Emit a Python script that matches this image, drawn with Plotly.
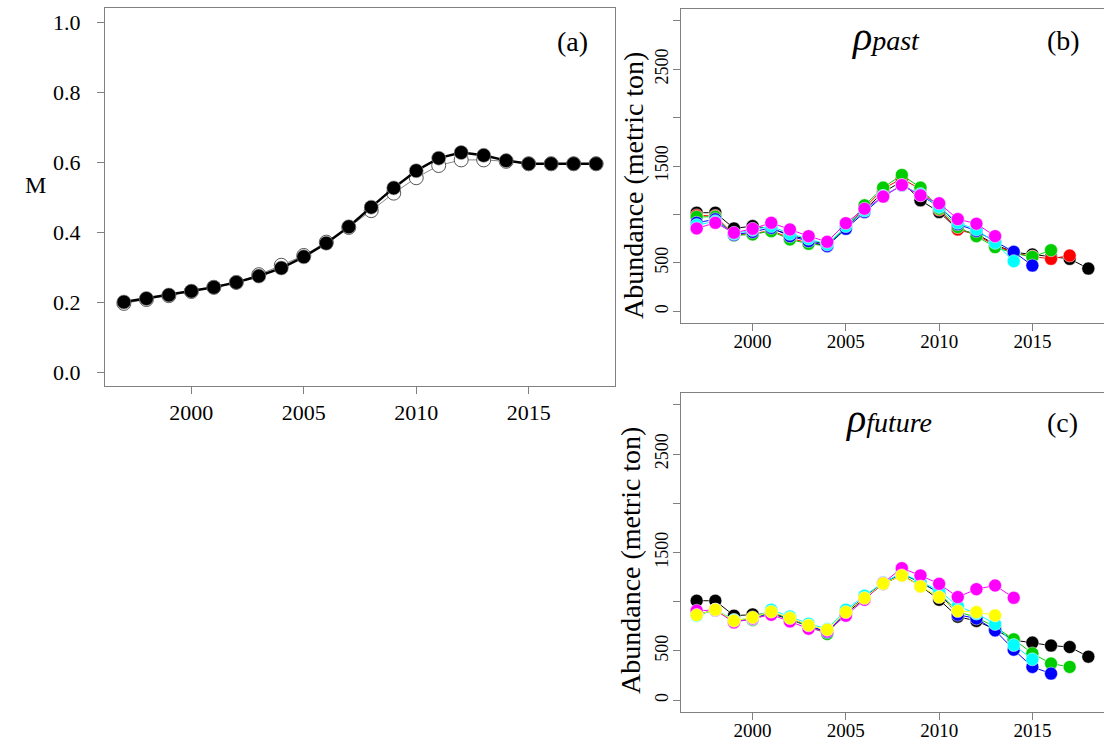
import plotly.graph_objects as go

years = list(range(1997, 2019))

# Panel (a): natural mortality M
m_filled = [0.200, 0.210, 0.220, 0.231, 0.242, 0.256, 0.274, 0.297, 0.329, 0.368, 0.415,
            0.471, 0.526, 0.575, 0.611, 0.627, 0.619, 0.604, 0.595, 0.595, 0.595, 0.595]
m_open = [0.196, 0.207, 0.218, 0.230, 0.242, 0.256, 0.278, 0.305, 0.333, 0.371, 0.413,
          0.461, 0.511, 0.555, 0.590, 0.606, 0.606, 0.602, 0.595, 0.595, 0.595, 0.595]

# Panel (b): rho past retrospective peels
past_black = [1018, 1018, 856, 880, 855, 790, 735, 690, 860, 1040, 1230, 1340, 1146, 1025, 845, 800, 690, 610, 587, 560, 542, 442]
past_red = [990, 985, 790, 800, 835, 755, 705, 680, 865, 1060, 1265, 1370, 1260, 1050, 845, 790, 680, 605, 565, 542, 576]
past_green = [975, 976, 783, 794, 828, 742, 697, 675, 870, 1094, 1277, 1408, 1277, 1060, 870, 776, 663, 600, 562, 631]
past_blue = [914, 950, 790, 820, 862, 776, 725, 673, 852, 1025, 1190, 1300, 1200, 1080, 900, 830, 720, 614, 473]
past_cyan = [890, 930, 800, 840, 880, 800, 750, 690, 880, 1040, 1190, 1300, 1210, 1080, 914, 845, 707, 518]
past_magenta = [856, 914, 811, 852, 914, 845, 776, 718, 910, 1059, 1184, 1304, 1197, 1115, 952, 904, 776]

# Panel (c): rho future retrospective peels
fut_black = [1010, 1010, 858, 871, 880, 820, 750, 690, 875, 1035, 1180, 1270, 1160, 1020, 848, 805, 720, 610, 585, 555, 540, 442]
fut_green = [865, 915, 805, 815, 890, 825, 750, 672, 890, 1045, 1185, 1280, 1195, 1090, 900, 840, 745, 618, 475, 372, 338]
fut_blue = [870, 915, 810, 825, 895, 830, 760, 690, 895, 1050, 1190, 1285, 1200, 1090, 868, 830, 709, 513, 338, 270]
fut_cyan = [858, 919, 815, 830, 919, 851, 777, 723, 919, 1061, 1195, 1290, 1206, 1115, 955, 880, 774, 560, 415]
fut_magenta = [909, 915, 790, 830, 868, 800, 726, 700, 858, 1020, 1190, 1341, 1267, 1182, 1047, 1128, 1165, 1040]
fut_yellow = [865, 919, 807, 841, 899, 834, 760, 716, 895, 1037, 1185, 1267, 1155, 1047, 905, 895, 861]

m_ticks = [0.0, 0.2, 0.4, 0.6, 0.8, 1.0]
x_ticks = [2000, 2005, 2010, 2015]
ab_ticks = [0, 500, 1000, 1500, 2000, 2500, 3000]
ab_text = ["0", "500", "", "1500", "", "2500", ""]

past_series = [("#000000", past_black), ("#FF0000", past_red), ("#00CD00", past_green),
               ("#0000FF", past_blue), ("#00FFFF", past_cyan), ("#FF00FF", past_magenta)]
fut_series = [("#000000", fut_black), ("#00CD00", fut_green), ("#0000FF", fut_blue),
              ("#00FFFF", fut_cyan), ("#FF00FF", fut_magenta), ("#FFFF00", fut_yellow)]

FONT = "Liberation Serif"
fig = go.Figure()

fig.add_trace(go.Scatter(x=years, y=m_open, mode="lines+markers", xaxis="x", yaxis="y",
                         line=dict(color="#888888", width=1),
                         marker=dict(size=14, color="white", line=dict(color="#555555", width=1)),
                         showlegend=False))
fig.add_trace(go.Scatter(x=years, y=m_filled, mode="lines+markers", xaxis="x", yaxis="y",
                         line=dict(color="black", width=2.5),
                         marker=dict(size=14, color="black", line=dict(color="#999999", width=0.6)),
                         showlegend=False))

for col, vals in past_series:
    fig.add_trace(go.Scatter(x=years[:len(vals)], y=vals, mode="lines+markers", xaxis="x2", yaxis="y2",
                             line=dict(color=col, width=1),
                             marker=dict(size=13, color=col, line=dict(color="white", width=0.5)),
                             showlegend=False))
for col, vals in fut_series:
    fig.add_trace(go.Scatter(x=years[:len(vals)], y=vals, mode="lines+markers", xaxis="x3", yaxis="y3",
                             line=dict(color=col, width=1),
                             marker=dict(size=13, color=col, line=dict(color="white", width=0.5)),
                             showlegend=False))

W, H = 1104, 743
def dx(a, b):
    return [a / W, min(b / W, 1.0)]
def dy(top, bottom):
    return [1 - bottom / H, 1 - top / H]

axis_common = dict(showline=True, linecolor="#808080", linewidth=1, mirror=True,
                   ticks="outside", ticklen=7, tickcolor="#808080", showgrid=False,
                   zeroline=False, automargin=False, tickfont=dict(family=FONT, color="black"))
xrange = [1996.16, 2018.84]

fig.update_layout(
    width=W, height=H, margin=dict(l=0, r=0, t=0, b=0),
    paper_bgcolor="white", plot_bgcolor="white",
    xaxis=dict(domain=dx(105, 615), anchor="y", range=xrange, tickvals=x_ticks, **axis_common),
    yaxis=dict(domain=dy(8, 386), anchor="x", range=[-0.04, 1.04], tickvals=m_ticks,
               tickformat=".1f", ticklabelstandoff=12, **axis_common),
    xaxis2=dict(domain=dx(681, 1104), anchor="y2", range=xrange, tickvals=x_ticks,
                ticklabelstandoff=-6, **axis_common),
    yaxis2=dict(domain=dy(9, 323), anchor="x2", range=[-120, 3120], tickvals=ab_ticks,
                ticktext=ab_text, tickangle=-90, ticklabelstandoff=-2, **axis_common),
    xaxis3=dict(domain=dx(681, 1104), anchor="y3", range=xrange, tickvals=x_ticks,
                ticklabelstandoff=-6, **axis_common),
    yaxis3=dict(domain=dy(393, 712), anchor="x3", range=[-120, 3120], tickvals=ab_ticks,
                ticktext=ab_text, tickangle=-90, ticklabelstandoff=-2, **axis_common),
)
fig.layout.xaxis.tickfont.size = 22
fig.layout.yaxis.tickfont.size = 22
fig.layout.xaxis2.tickfont.size = 19
fig.layout.xaxis3.tickfont.size = 19
fig.layout.yaxis2.tickfont.size = 18
fig.layout.yaxis3.tickfont.size = 18

def ann(text, x, y, size, angle=0):
    fig.add_annotation(text=text, xref="paper", yref="paper", x=x / W, y=1 - y / H,
                       xanchor="center", yanchor="middle", showarrow=False, textangle=angle,
                       font=dict(family=FONT, size=size, color="black"))

ann("M", 35, 185, 24)
ann("(a)", 572, 42, 28)
ann("(b)", 1063, 40, 28)
ann("(c)", 1062, 422, 28)
ann("Abundance (metric ton)", 634, 186, 28, -90)
ann("Abundance (metric ton)", 630, 561, 28, -90)
ann("<i>ρ</i><i><span style='font-size:28px'>past</span></i>", 885, 36, 40)
ann("<i>ρ</i><i><span style='font-size:28px'>future</span></i>", 888, 418, 40)

fig.write_html("out.html", config={"displayModeBar": False},
               post_script="document.body.style.margin='0px';document.body.style.overflow='hidden';")
